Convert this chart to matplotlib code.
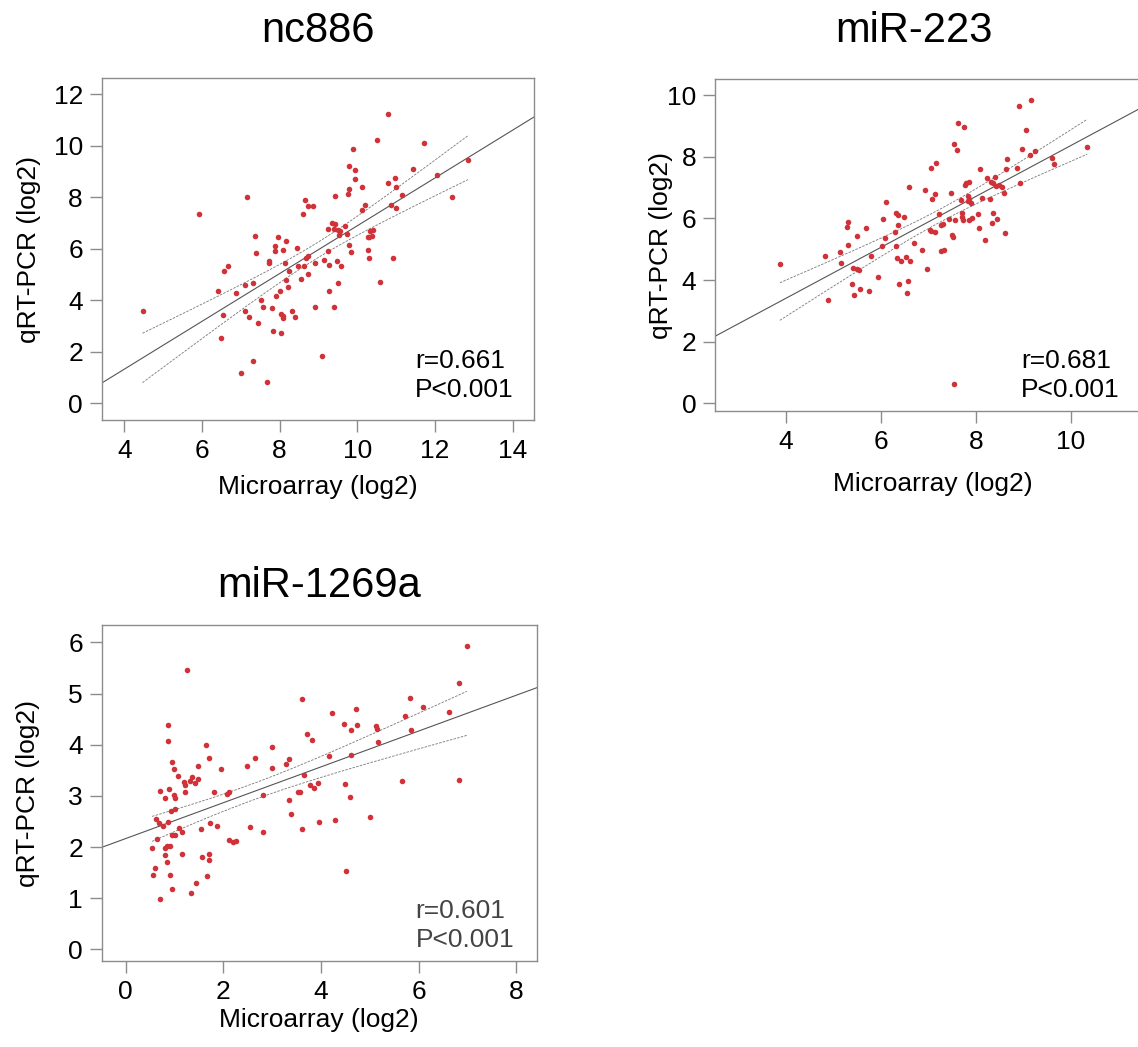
"""Scatter plots of qRT-PCR vs microarray expression with linear fit and 95% CI."""

import matplotlib

matplotlib.use("Agg")
import matplotlib.pyplot as plt  # noqa: E402
import numpy as np  # noqa: E402

plt.rcParams["font.family"] = ["Liberation Sans", "DejaVu Sans"]

# nc886
nc886_x = [4.47, 5.92, 7.15, 8.66, 8.74, 8.86, 8.60, 7.38, 7.97, 8.16, 7.87, 7.88, 8.09, 8.45,
           7.40, 7.73, 7.74, 8.14, 6.68, 6.56, 8.23, 8.48, 8.63, 8.68, 8.74, 8.91, 8.74, 8.55,
           8.17, 8.21, 8.01, 7.92, 7.31, 7.11, 6.89, 6.41, 7.52, 7.58, 7.80, 7.12, 7.20, 6.55,
           8.04, 8.10, 8.09, 8.33, 8.39, 8.91, 7.44, 7.84, 8.04, 6.49, 7.32, 7.01, 7.67,
           10.80, 10.52, 11.72, 9.88, 12.85, 9.80, 9.93, 11.44, 9.94, 12.05, 10.78, 10.97, 10.99,
           10.12, 9.79, 9.77, 9.42, 11.16, 12.45, 10.21, 10.11, 10.88, 11.01, 9.68, 9.34, 9.42,
           9.26, 9.41, 9.51, 9.56, 9.52, 9.74, 10.32, 10.41, 10.31, 10.38, 10.27, 9.78, 9.85,
           10.27, 9.24, 10.30, 10.91, 9.15, 9.27, 9.49, 9.59, 9.51, 9.28, 10.59, 9.40, 9.08]
nc886_y = [3.59, 7.35, 8.00, 7.91, 7.66, 7.66, 7.35, 6.49, 6.45, 6.31, 6.10, 5.92, 5.97, 6.04,
           5.83, 5.51, 5.45, 5.43, 5.34, 5.14, 5.12, 5.33, 5.34, 5.66, 5.70, 5.43, 5.01, 4.83,
           4.77, 4.52, 4.34, 4.17, 4.67, 4.59, 4.30, 4.36, 4.00, 3.75, 3.70, 3.57, 3.34, 3.42,
           3.45, 3.38, 3.30, 3.57, 3.34, 3.72, 3.12, 2.81, 2.71, 2.54, 1.64, 1.16, 0.83,
           11.23, 10.22, 10.12, 9.88, 9.43, 9.20, 9.06, 9.11, 8.70, 8.86, 8.54, 8.75, 8.41,
           8.39, 8.31, 8.12, 8.04, 8.09, 8.00, 7.70, 7.51, 7.70, 7.60, 6.89, 6.99, 6.97,
           6.77, 6.75, 6.71, 6.68, 6.52, 6.59, 6.68, 6.72, 6.46, 6.48, 6.44, 6.15, 5.88,
           5.95, 5.91, 5.64, 5.64, 5.55, 5.38, 5.54, 5.32, 4.68, 4.37, 4.70, 3.72, 1.82]

# miR-223
mir223_x = [3.87, 4.89, 4.82, 5.13, 5.16, 5.31, 5.29, 5.31, 5.50, 5.69, 5.78, 5.41, 5.50, 5.53,
            5.38, 5.56, 5.44, 5.74, 5.94, 6.04, 6.10, 6.08, 6.02, 6.29, 6.32, 6.36, 6.35, 6.31,
            6.33, 6.37,
            8.90, 9.16, 7.61, 7.75, 9.05, 7.54, 7.60, 8.97, 9.23, 9.14, 10.34, 9.59, 9.65, 8.65,
            7.15, 7.05, 8.09, 8.62, 8.87, 6.58, 6.93, 7.14, 7.08, 7.47, 7.76, 7.86, 7.78, 8.23,
            8.39, 8.31, 8.35, 8.41, 8.48, 8.55, 8.93, 8.58, 7.68, 7.82, 7.85, 7.89, 7.82, 8.13,
            8.29, 7.23, 6.49, 7.42, 7.56, 7.70, 7.71, 7.73, 7.86, 7.92, 8.04, 8.35, 8.45, 8.33,
            7.26, 7.31, 7.02, 7.05, 7.14, 7.49, 7.51, 8.07, 8.19, 8.60, 6.69, 6.87, 7.27, 7.33,
            6.42, 6.60, 6.53, 6.96, 6.57, 6.54, 7.53]
mir223_y = [4.51, 3.36, 4.78, 4.92, 4.56, 5.87, 5.72, 5.15, 5.42, 5.68, 4.79, 4.40, 4.37, 4.32,
            3.87, 3.71, 3.52, 3.64, 4.09, 5.97, 6.53, 5.35, 5.10, 5.55, 6.16, 6.11, 5.79, 5.10,
            4.71, 3.86,
            9.66, 9.84, 9.10, 8.97, 8.86, 8.40, 8.21, 8.25, 8.19, 8.04, 8.32, 7.95, 7.78, 7.94,
            7.81, 7.64, 7.59, 7.59, 7.64, 7.03, 6.93, 6.78, 6.62, 6.81, 7.08, 7.18, 7.14, 7.30,
            7.33, 7.19, 7.14, 7.06, 7.09, 7.01, 7.16, 6.81, 6.61, 6.74, 6.64, 6.51, 6.57, 6.67,
            6.62, 6.13, 6.05, 5.98, 5.95, 6.16, 6.05, 5.95, 5.95, 6.02, 6.13, 6.19, 5.98, 5.84,
            5.78, 5.82, 5.62, 5.60, 5.56, 5.45, 5.41, 5.68, 5.30, 5.54, 5.21, 4.97, 4.94, 4.97,
            4.63, 4.63, 4.74, 4.35, 3.97, 3.58, 0.63]

# miR-1269a
mir1269a_x = [1.25, 3.61, 0.86, 0.87, 3.71, 3.81, 1.65, 1.71, 3.00, 2.65, 0.95, 1.00, 1.48, 1.95,
              2.48, 2.99, 3.29, 3.35, 1.08, 1.20, 1.22, 1.31, 1.36, 1.43, 1.49, 0.71, 0.88, 0.81,
              0.99, 1.01, 1.22, 1.80, 2.07, 2.12, 2.82, 3.34, 3.54, 3.58, 3.66, 3.78, 3.85, 3.93,
              3.39, 0.92, 1.02, 0.63, 0.68, 0.77, 0.87, 1.09, 1.16, 0.95, 1.02, 1.54, 1.72, 1.88,
              2.54, 2.82, 3.62, 3.97, 0.65, 0.54, 0.80, 0.85, 0.90, 0.80, 0.85, 1.16, 1.56, 1.71,
              1.71, 2.11, 2.19, 2.27, 0.61, 0.55, 0.90, 1.67, 1.45, 0.95, 1.33, 0.71,
              6.99, 6.83, 5.82, 6.09, 6.62, 5.72, 4.72, 4.22, 4.48, 4.73, 4.62, 5.13, 5.14, 5.85,
              5.17, 4.16, 4.61, 5.67, 6.82, 4.49, 4.60, 4.29, 5.01, 4.52]
mir1269a_y = [5.46, 4.89, 4.38, 4.07, 4.20, 4.09, 4.00, 3.75, 3.95, 3.74, 3.66, 3.53, 3.59, 3.53,
              3.59, 3.54, 3.62, 3.72, 3.39, 3.27, 3.21, 3.29, 3.36, 3.26, 3.32, 3.10, 3.14, 2.95,
              3.01, 2.95, 3.07, 3.07, 3.03, 3.07, 3.02, 2.91, 3.08, 3.08, 3.41, 3.21, 3.16, 3.25,
              2.65, 2.71, 2.75, 2.55, 2.46, 2.42, 2.49, 2.37, 2.30, 2.24, 2.24, 2.36, 2.46, 2.41,
              2.39, 2.30, 2.36, 2.49, 2.15, 1.99, 1.99, 2.01, 2.01, 1.84, 1.70, 1.87, 1.80, 1.87,
              1.74, 2.14, 2.09, 2.11, 1.59, 1.46, 1.46, 1.44, 1.29, 1.17, 1.10, 0.98,
              5.93, 5.20, 4.91, 4.74, 4.64, 4.56, 4.70, 4.63, 4.40, 4.39, 4.29, 4.37, 4.31, 4.29,
              4.05, 3.77, 3.79, 3.29, 3.31, 3.24, 2.98, 2.52, 2.58, 1.54]

DOT = "#cf3339"
SPINE = "#8c8c8c"
T975 = 1.98


def scatter_panel(ax, x, y, title, stats, stats_xy, xlim, ylim, xticks, yticks,
                  text_color="black", title_x=0.5, title_pad=26):
    x = np.asarray(x)
    y = np.asarray(y)
    ax.scatter(x, y, s=16, color=DOT, linewidths=0, zorder=3)

    slope, icpt = np.polyfit(x, y, 1)
    xs = np.linspace(xlim[0] - 1, xlim[1] + 1, 50)
    ax.plot(xs, icpt + slope * xs, color="#555555", lw=0.8, zorder=2)

    n = len(x)
    resid = y - (icpt + slope * x)
    s = np.sqrt(np.sum(resid ** 2) / (n - 2))
    sxx = np.sum((x - x.mean()) ** 2)
    xc = np.linspace(x.min(), x.max(), 100)
    half = T975 * s * np.sqrt(1 / n + (xc - x.mean()) ** 2 / sxx)
    fit = icpt + slope * xc
    for band in (fit + half, fit - half):
        ax.plot(xc, band, color="#777777", lw=0.6, ls=(0, (3, 1.5)), zorder=2)

    ax.set_xlim(*xlim)
    ax.set_ylim(*ylim)
    ax.set_xticks(xticks)
    ax.set_yticks(yticks)
    for sp in ax.spines.values():
        sp.set_color(SPINE)
        sp.set_linewidth(1.0)
    ax.tick_params(direction="out", length=8.5, width=1.0, color=SPINE,
                   labelsize=19, pad=5)
    ax.set_title(title, fontsize=30, pad=title_pad, x=title_x)

    tx, ty = stats_xy
    ax.text(tx, ty[0], stats[0], fontsize=19, color=text_color, va="baseline")
    ax.text(tx, ty[1], stats[1], fontsize=19, color=text_color, va="baseline")


fig = plt.figure(figsize=(11.38, 10.47), dpi=100)
ax1 = fig.add_axes([0.0894, 0.5984, 0.3801, 0.3268])
ax2 = fig.add_axes([0.6283, 0.6074, 0.3822, 0.3171])
ax3 = fig.add_axes([0.0894, 0.0821, 0.3822, 0.3209])

scatter_panel(ax1, nc886_x, nc886_y, "nc886", ["r=0.661", "P<0.001"], (11.49, [1.37, 0.26]),
              (3.42, 14.56), (-0.67, 12.62), [4, 6, 8, 10, 12, 14], [0, 2, 4, 6, 8, 10, 12])
scatter_panel(ax2, mir223_x, mir223_y, "miR-223", ["r=0.681", "P<0.001"], (8.95, [1.145, 0.21]),
              (2.505, 11.66), (-0.25, 10.52), [4, 6, 8, 10], [0, 2, 4, 6, 8, 10],
              title_x=0.457, title_pad=27)
scatter_panel(ax3, mir1269a_x, mir1269a_y, "miR-1269a", ["r=0.601", "P<0.001"], (5.94, [0.62, 0.05]),
              (-0.49, 8.42), (-0.23, 6.34), [0, 2, 4, 6, 8], [0, 1, 2, 3, 4, 5, 6],
              text_color="#444444", title_pad=20)

for ax, lx, ly in [(ax1, -0.14, -0.159), (ax2, -0.097, -0.184), (ax3, -0.142, -0.14)]:
    ax.set_xlabel("Microarray (log2)", fontsize=19)
    ax.set_ylabel("qRT-PCR (log2)", fontsize=19)
    ax.yaxis.set_label_coords(lx, 0.5)
    ax.xaxis.set_label_coords(0.5, ly)

fig.savefig("out.png", dpi=100)
